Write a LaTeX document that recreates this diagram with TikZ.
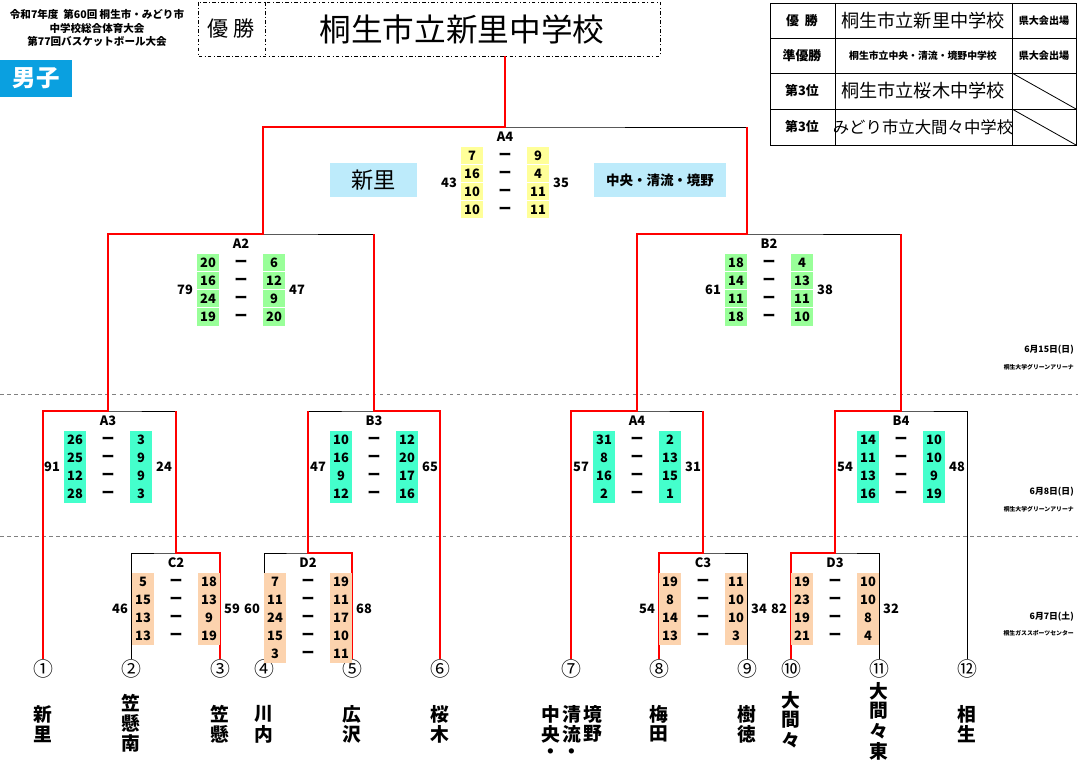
\documentclass[tikz,border=0pt]{standalone}
\usepackage{fontspec}
\setmainfont{Noto Sans CJK JP}
\usetikzlibrary{positioning,calc}

\definecolor{shyel}{HTML}{FFFF99}
\definecolor{shgrn}{HTML}{99FF99}
\definecolor{shtea}{HTML}{44FFCC}
\definecolor{shpch}{HTML}{FCD3AE}
\definecolor{namebl}{HTML}{BDEBFB}
\definecolor{boyblue}{HTML}{0AA0E0}

\tikzset{
  bk/.style={black,line width=0.7pt},
  rd/.style={red,line width=2.2pt},
  num/.style={font=\fontsize{11}{11}\selectfont\bfseries,inner sep=0pt},
  tot/.style={font=\fontsize{11}{11}\selectfont\bfseries,inner sep=0pt},
  lbl/.style={font=\fontsize{11}{11}\selectfont\bfseries,inner sep=0pt},
  entry/.style={font=\fontsize{17}{17}\selectfont,inner sep=0pt},
  nm/.style={font=\fontsize{16}{16}\selectfont\bfseries,inner sep=0pt},
  datel/.style={font=\fontsize{7.5}{7.5}\selectfont\bfseries,anchor=east,inner sep=0pt},
  venue/.style={font=\fontsize{5}{5}\selectfont\bfseries,anchor=east,inner sep=0pt},
}

% #1 x of junction, #2 top y, #3 label, #4 shade, #5 left, #6 right, #7 left total, #8 right total
\newcommand{\scorebox}[8]{%
  \node[lbl] at (#1,#2+10) {#3};
  \foreach \s [count=\i] in {#5} {
    \fill[#4] (#1-44,#2+11+\i*18-9) rectangle (#1-22,#2+11+\i*18+8.5);
    \node[num] at (#1-33,#2+11+\i*18) {\s};
    \node[num] at (#1,#2+11+\i*18) {ー};
  }
  \foreach \s [count=\i] in {#6} {
    \fill[#4] (#1+22,#2+11+\i*18-9) rectangle (#1+44,#2+11+\i*18+8.5);
    \node[num] at (#1+33,#2+11+\i*18) {\s};
  }
  \node[tot] at (#1-56,#2+56) {#7};
  \node[tot] at (#1+56,#2+56) {#8};
}
% vertical school name
\newcommand{\vname}[3]{%
  \foreach \c [count=\i] in {#3} {\node[nm] at (#1,#2+\i*20-20) {\c};}
}

\begin{document}
\begin{tikzpicture}[x=0.03cm,y=-0.03cm]
    \useasboundingbox (0,0) rectangle (1078,762);

    % heading
    \node[font=\fontsize{9}{11.5}\selectfont\bfseries,align=center] (head) at (97,28)
      {令和7年度\ \ 第60回 桐生市・みどり市\\中学校総合体育大会\\第77回バスケットボール大会};
    \fill[boyblue] (0,60) rectangle (72,97);
    \node[font=\fontsize{20}{20}\selectfont\bfseries,text=white] (boys) at (36,78.5) {男子};

    % winner box
    \draw[line width=0.8pt,dash dot] (198,2) rectangle (660,56);
    \draw[line width=0.8pt,dash dot] (265,2) -- (265,56);
    \node[font=\fontsize{18}{18}\selectfont] (wl) at (231,29) {優\ 勝};
    \node[font=\fontsize{27}{27}\selectfont] (wn) at (462,29) {桐生市立新里中学校};
    \coordinate (win) at (505,56);

    % result table
    \draw[line width=0.8pt] (770,3) rectangle (1076,145);
    \foreach \y in {38,73,109} {\draw[bk] (770,\y) -- (1076,\y);}
    \draw[bk] (835,3) -- (835,145);
    \draw[bk] (1012,3) -- (1012,145);
    \draw[bk] (1012,73) -- (1076,109);
    \draw[bk] (1012,109) -- (1076,145);
    \node[font=\fontsize{11}{11}\selectfont\bfseries] at (802,20.5) {優\ \ 勝};
    \node[font=\fontsize{11}{11}\selectfont\bfseries] at (802,55.5) {準優勝};
    \node[font=\fontsize{11}{11}\selectfont\bfseries] at (802,91) {第3位};
    \node[font=\fontsize{11}{11}\selectfont\bfseries] at (802,127) {第3位};
    \node[font=\fontsize{15.5}{15.5}\selectfont] at (923,20.5) {桐生市立新里中学校};
    \node[font=\fontsize{8.4}{8.4}\selectfont\bfseries] at (923,55.5) {桐生市立中央・清流・境野中学校};
    \node[font=\fontsize{15.5}{15.5}\selectfont] at (923,91) {桐生市立桜木中学校};
    \node[font=\fontsize{14}{14}\selectfont] at (923,127) {みどり市立大間々中学校};
    \node[font=\fontsize{8.6}{8.6}\selectfont\bfseries] at (1044,20.5) {県大会出場};
    \node[font=\fontsize{8.6}{8.6}\selectfont\bfseries] at (1044,55.5) {県大会出場};

    % day separators
    \draw[gray,dashed,line width=0.5pt] (0,394) -- (1078,394);
    \draw[gray,dashed,line width=0.5pt] (0,536) -- (1078,536);
    \node[datel] at (1074,350) {6月15日(日)};
    \node[venue] at (1074,367) {桐生大学グリーンアリーナ};
    \node[datel] at (1074,492) {6月8日(日)};
    \node[venue] at (1074,509) {桐生大学グリーンアリーナ};
    \node[datel] at (1074,617) {6月7日(土)};
    \node[venue] at (1074,633) {桐生ガススポーツセンター};

    % entries
    \node[entry] (e1) at (43,669) {①};
    \node[entry] (e2) at (131,669) {②};
    \node[entry] (e3) at (220,669) {③};
    \node[entry] (e4) at (264,669) {④};
    \node[entry] (e5) at (352,669) {⑤};
    \node[entry] (e6) at (440,669) {⑥};
    \node[entry] (e7) at (571,669) {⑦};
    \node[entry] (e8) at (659,669) {⑧};
    \node[entry] (e9) at (747,669) {⑨};
    \node[entry] (e10) at (791,669) {⑩};
    \node[entry] (e11) at (879,669) {⑪};
    \node[entry] (e12) at (967,669) {⑫};

    \vname{43}{714}{新,里}
    \vname{131}{703}{笠,懸,南}
    \vname{220}{714}{笠,懸}
    \vname{264}{714}{川,内}
    \vname{352}{714}{広,沢}
    \vname{440}{714}{桜,木}
    \vname{551}{714}{中,央,・}
    \vname{572}{714}{清,流,・}
    \vname{593}{714}{境,野}
    \vname{659}{714}{梅,田}
    \vname{747}{714}{樹,徳}
    \vname{791}{700}{大,間,々}
    \vname{879}{691}{大,間,々,東}
    \vname{967}{714}{相,生}

    % junctions
    \coordinate (c2) at (176,553);
    \coordinate (d2) at (308,553);
    \coordinate (c3) at (703,553);
    \coordinate (d3) at (835,553);
    \coordinate (a3) at (108,411);
    \coordinate (b3) at (374,411);
    \coordinate (a4b) at (637,411);
    \coordinate (b4) at (901,411);
    \coordinate (a2) at (263,234);
    \coordinate (b2) at (747,234);
    \coordinate (fin) at (505,127);

    % bracket
    \draw[bk] (e2.north) |- (c2) -| (e3.north);
    \draw[bk] (e4.north) |- (d2) -| (e5.north);
    \draw[bk] (e8.north) |- (c3) -| (e9.north);
    \draw[bk] (e10.north) |- (d3) -| (e11.north);
    \draw[bk] (e1.north) |- (a3) -| (c2);
    \draw[bk] (d2) |- (b3) -| (e6.north);
    \draw[bk] (e7.north) |- (a4b) -| (c3);
    \draw[bk] (d3) |- (b4) -| (e12.north);
    \draw[bk] (108,411) |- (a2) -- (374,234) -- (b3);
    \draw[bk] (a4b) |- (b2) -- (901,234) -- (b4);
    \draw[bk] (a2) |- (fin) -| (b2);

    % winners
    \draw[rd] (e1.north) |- (a3) |- (a2) |- (fin) -- (win);
    \draw[rd] (e3.north) |- (c2) -- (c2 |- a3);
    \draw[rd] (e5.north) |- (d2) -- (d2 |- b3);
    \draw[rd] (e6.north) |- (b3) -- (b3 |- a2);
    \draw[rd] (e8.north) |- (c3) -- (c3 |- a4b);
    \draw[rd] (e7.north) |- (a4b) |- (b2) -- (b2 |- fin);
    \draw[rd] (e10.north) |- (d3) |- (b4) -- (b4 |- b2);

    % scores
    \scorebox{176}{553}{C2}{shpch}{5,15,13,13}{18,13,9,19}{46}{59}
    \scorebox{308}{553}{D2}{shpch}{7,11,24,15,3}{19,11,17,10,11}{60}{68}
    \scorebox{703}{553}{C3}{shpch}{19,8,14,13}{11,10,10,3}{54}{34}
    \scorebox{835}{553}{D3}{shpch}{19,23,19,21}{10,10,8,4}{82}{32}
    \scorebox{108}{411}{A3}{shtea}{26,25,12,28}{3,9,9,3}{91}{24}
    \scorebox{374}{411}{B3}{shtea}{10,16,9,12}{12,20,17,16}{47}{65}
    \scorebox{637}{411}{A4}{shtea}{31,8,16,2}{2,13,15,1}{57}{31}
    \scorebox{901}{411}{B4}{shtea}{14,11,13,16}{10,10,9,19}{54}{48}
    \scorebox{241}{234}{A2}{shgrn}{20,16,24,19}{6,12,9,20}{79}{47}
    \scorebox{769}{234}{B2}{shgrn}{18,14,11,18}{4,13,11,10}{61}{38}
    \scorebox{505}{127}{A4}{shyel}{7,16,10,10}{9,4,11,11}{43}{35}

    % finalists
    \fill[namebl] (330,163) rectangle (417,197);
    \node[font=\fontsize{19}{19}\selectfont] (fa) at (373.5,180) {新里};
    \fill[namebl] (594,163) rectangle (726,197);
    \node[font=\fontsize{11.5}{11.5}\selectfont\bfseries] (fb) at (660,180) {中央・清流・境野};
\end{tikzpicture}
\end{document}
